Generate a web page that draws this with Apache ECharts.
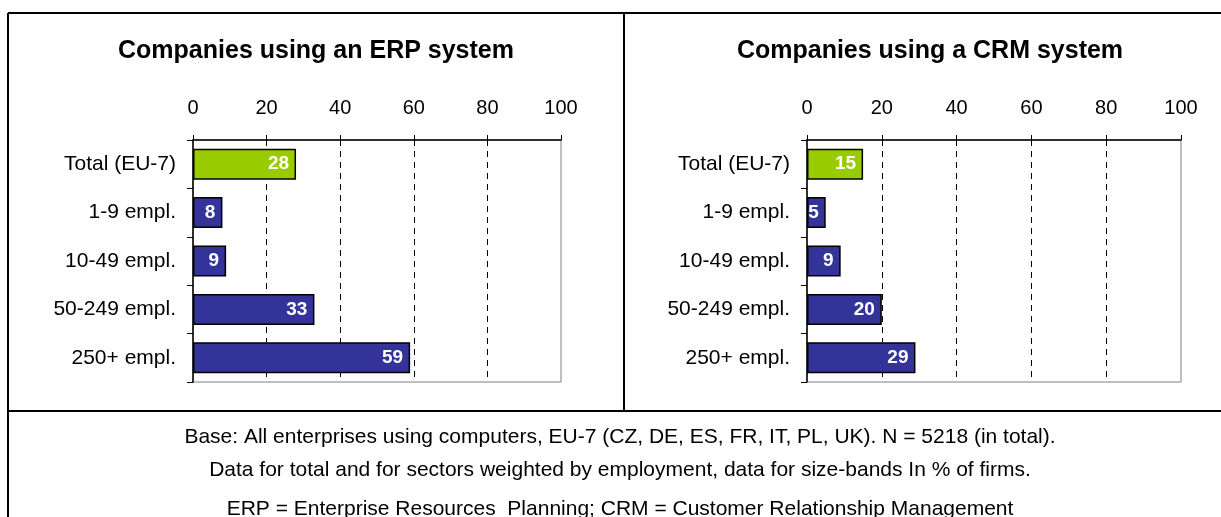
<!DOCTYPE html>
<html>
<head>
<meta charset="utf-8">
<script src="https://cdn.jsdelivr.net/npm/echarts@6/dist/echarts.min.js"></script>
<style>
  html, body { margin: 0; padding: 0; background: #fff; }
  #chart { width: 1221px; height: 517px; }
</style>
</head>
<body>
<div id="chart"></div>
<script>
// data
var categories = ["Total (EU-7)", "1-9 empl.", "10-49 empl.", "50-249 empl.", "250+ empl."];
var erpValues = [28, 8, 9, 33, 59];
var crmValues = [15, 5, 9, 20, 29];
var chartTitles = ["Companies using an ERP system", "Companies using a CRM system"];
var footerLines = [
  "Base: All enterprises using computers, EU-7 (CZ, DE, ES, FR, IT, PL, UK). N = 5218 (in total).",
  "Data for total and for sectors weighted by employment, data for size-bands In % of firms.",
  "ERP = Enterprise Resources  Planning; CRM = Customer Relationship Management"
];

var FONT = "Liberation Sans, Arial, sans-serif";
var GREEN = "#99CC00";
var NAVY = "#333399";

function barData(values) {
  return values.map(function (v, i) {
    return {
      value: v,
      itemStyle: { color: i === 0 ? GREEN : NAVY, borderColor: "#000", borderWidth: 1.5 }
    };
  });
}

function xAxisFor(gridIndex) {
  return {
    gridIndex: gridIndex,
    type: "value",
    position: "top",
    min: 0,
    max: 100,
    interval: 20,
    axisLine: { show: true, lineStyle: { color: "#000", width: 1.5 } },
    axisTick: { show: true, length: 5, lineStyle: { color: "#000" } },
    axisLabel: { color: "#000", fontSize: 20, fontFamily: FONT, margin: 22 },
    splitLine: {
      show: true,
      showMinLine: false,
      showMaxLine: false,
      lineStyle: { color: "#000", type: [6, 5], width: 1 }
    }
  };
}

function yAxisFor(gridIndex) {
  return {
    gridIndex: gridIndex,
    type: "category",
    inverse: true,
    data: categories,
    axisLine: { show: true, lineStyle: { color: "#000", width: 1.5 } },
    axisTick: { show: true, length: 6, lineStyle: { color: "#000" } },
    axisLabel: { color: "#000", fontSize: 21, fontFamily: FONT, margin: 17 },
    splitLine: { show: false }
  };
}

function seriesFor(idx, values) {
  return {
    type: "bar",
    xAxisIndex: idx,
    yAxisIndex: idx,
    data: barData(values),
    barCategoryGap: "36%",
    label: {
      show: true,
      position: "insideRight",
      distance: 7,
      color: "#fff",
      fontWeight: "bold",
      fontSize: 19,
      fontFamily: FONT
    },
    animation: false
  };
}

var graphics = [
  // frame lines
  { type: "line", shape: { x1: 8, y1: 13, x2: 1221, y2: 13 }, style: { stroke: "#000", lineWidth: 2 } },
  { type: "line", shape: { x1: 8, y1: 13, x2: 8, y2: 517 }, style: { stroke: "#000", lineWidth: 2 } },
  { type: "line", shape: { x1: 624, y1: 13, x2: 624, y2: 411 }, style: { stroke: "#000", lineWidth: 2 } },
  { type: "line", shape: { x1: 8, y1: 411, x2: 1221, y2: 411 }, style: { stroke: "#000", lineWidth: 2 } },
  // panel titles
  { type: "text", x: 316, y: 51, style: { text: chartTitles[0], font: "bold 25px " + FONT, fill: "#000", textAlign: "center", textVerticalAlign: "middle" } },
  { type: "text", x: 930, y: 51, style: { text: chartTitles[1], font: "bold 25px " + FONT, fill: "#000", textAlign: "center", textVerticalAlign: "middle" } }
];
var footerY = [437, 470, 509];
footerLines.forEach(function (line, i) {
  graphics.push({
    type: "text", x: 620, y: footerY[i],
    style: { text: line, font: "21px " + FONT, fill: "#000", textAlign: "center", textVerticalAlign: "middle" }
  });
});

var myChart = echarts.init(document.getElementById("chart"), null, { renderer: "canvas" });
var option = {
  backgroundColor: "#fff",
  animation: false,
  grid: [
    { left: 193, top: 140, width: 368, height: 242, show: true, borderColor: "#808080", borderWidth: 1, backgroundColor: "transparent" },
    { left: 807, top: 140, width: 374, height: 242, show: true, borderColor: "#808080", borderWidth: 1, backgroundColor: "transparent" }
  ],
  xAxis: [xAxisFor(0), xAxisFor(1)],
  yAxis: [yAxisFor(0), yAxisFor(1)],
  series: [seriesFor(0, erpValues), seriesFor(1, crmValues)],
  graphic: graphics
};
myChart.setOption(option);
</script>
</body>
</html>
